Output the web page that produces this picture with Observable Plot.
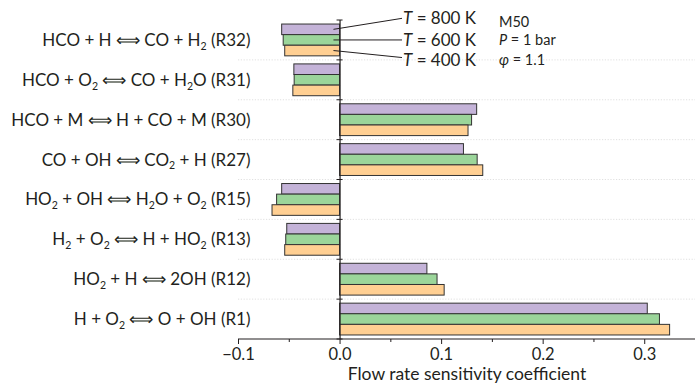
<!DOCTYPE html>
<html>
<head>
<meta charset="utf-8">
<script src="https://cdn.jsdelivr.net/npm/d3@7"></script>
<script src="https://cdn.jsdelivr.net/npm/@observablehq/plot@0.6"></script>
<style>
  body { margin: 0; background: #fff; }
  #chart svg { display: block; }
</style>
</head>
<body>
<div id="chart"></div>
<script>
// Reactions, top to bottom; "_2" marks a subscript digit
const reactions = ["R32", "R31", "R30", "R27", "R15", "R13", "R12", "R1"];
const reactionLabels = [
  "HCO + H ⟺ CO + H_2 (R32)",
  "HCO + O_2 ⟺ CO + H_2O (R31)",
  "HCO + M ⟺ H + CO + M (R30)",
  "CO + OH ⟺ CO_2 + H (R27)",
  "HO_2 + OH ⟺ H_2O + O_2 (R15)",
  "H_2 + O_2 ⟺ H + HO_2 (R13)",
  "HO_2 + H ⟺ 2OH (R12)",
  "H + O_2 ⟺ O + OH (R1)"
];

// Flow rate sensitivity coefficients per temperature (same order as reactions)
const temperatures = [800, 600, 400];
const sens800K = [-0.057, -0.045, 0.135, 0.122, -0.057, -0.052, 0.086, 0.303];
const sens600K = [-0.0555, -0.0447, 0.130, 0.1355, -0.062, -0.053, 0.096, 0.315];
const sens400K = [-0.054, -0.046, 0.1265, 0.141, -0.0665, -0.054, 0.103, 0.325];

const seriesColors = ["#c4b3d8", "#9bd59a", "#ffcf92"];
const temperatureLabels = ["*T* = 800 K", "*T* = 600 K", "*T* = 400 K"];
const conditionLabels = ["M50", "*P* = 1 bar", "*φ* = 1.1"];

const xTicks = [-0.1, 0, 0.1, 0.2, 0.3];
const xMinorTicks = [-0.05, 0.05, 0.15, 0.25];
const xLabel = "Flow rate sensitivity coefficient";

const ink = "#231f20";
const fontSize = 17;
const plotMarginTop = 20;

const rows = [];
reactions.forEach((r, i) => {
  [sens800K, sens600K, sens400K].forEach((s, j) => {
    rows.push({reaction: r, T: temperatures[j], value: s[i]});
  });
});
const labelOf = new Map(reactions.map((r, i) => [r, reactionLabels[i]]));

const chart = Plot.plot({
  width: 696,
  height: 385,
  marginLeft: 238,
  marginRight: 1,
  marginTop: plotMarginTop,
  marginBottom: 46,
  style: {fontFamily: "Lato, 'Open Sans', sans-serif", fontSize: fontSize + "px", color: ink, background: "#fff"},
  x: {domain: [-0.1, 0.35]},
  y: {domain: temperatures, paddingInner: 0, paddingOuter: 0.38, round: false, axis: null},
  fy: {domain: reactions, padding: 0, round: false, axis: null},
  color: {domain: temperatures, range: seriesColors},
  marks: [
    Plot.barX(rows, {fy: "reaction", y: "T", x: "value", fill: "T", stroke: "#333", strokeWidth: 1}),
    Plot.ruleX([0], {stroke: ink, strokeWidth: 1.2}),
    Plot.axisFy({anchor: "left", tickSize: 0, tickPadding: 0, dx: 12, fontSize, fill: ink,
      tickFormat: r => labelOf.get(r), label: null}),
    Plot.axisX({ticks: xTicks, tickFormat: d3.format(".1f"), tickSize: 5, tickPadding: 4,
      stroke: ink, fill: ink, fontSize: 16.5, label: null}),
    Plot.axisX({ticks: xMinorTicks, tickFormat: () => "", tickSize: 3, stroke: ink, label: null}),
    Plot.text([xLabel], {fy: () => reactions[reactions.length - 1], frameAnchor: "bottom",
      dy: 40.5, fontSize: 17.5, fill: ink})
  ]
});

document.getElementById("chart").appendChild(chart);

// Rich text: "_d" -> subscript digit, "*s*" -> italic
const SVGNS = "http://www.w3.org/2000/svg";
function setRich(el, str, size) {
  el.textContent = "";
  const re = /_(\d)|\*([^*]+)\*|([^_*]+)/g;
  let m, shifted = false;
  while ((m = re.exec(str))) {
    const t = document.createElementNS(SVGNS, "tspan");
    if (m[1]) {
      t.textContent = m[1];
      t.setAttribute("font-size", size * 0.62);
      t.setAttribute("dy", size * 0.22);
      shifted = true;
    } else {
      t.textContent = m[2] ?? m[3];
      if (m[2]) t.setAttribute("font-style", "italic");
      if (shifted) { t.setAttribute("dy", -size * 0.22); shifted = false; }
    }
    el.appendChild(t);
  }
}
chart.querySelectorAll("text").forEach(el => {
  const s = el.textContent;
  if (/[_*]/.test(s)) setRich(el, s, fontSize);
});

// Structural lines and annotations, positioned with the plot's scales
const xs = chart.scale("x"), ys = chart.scale("y"), fys = chart.scale("fy");
const svg = d3.select(chart);
const bandTops = reactions.map(r => fys.apply(r));
const bandBottom = bandTops[bandTops.length - 1] + fys.bandwidth;
const boundaries = [...bandTops, bandBottom];
const zeroX = xs.apply(0);

// dotted separators between reaction groups (behind the bars)
const back = svg.insert("g", "g");
back.selectAll("line").data(bandTops.slice(1)).join("line")
  .attr("x1", xs.range[0]).attr("x2", xs.range[1])
  .attr("y1", d => d).attr("y2", d => d)
  .attr("stroke", "#d8d8d8").attr("stroke-width", 0.8).attr("stroke-dasharray", "1.2,1.6");

const front = svg.append("g").attr("text-anchor", "start");
// x-axis baseline
front.append("line")
  .attr("x1", xs.range[0]).attr("x2", xs.range[1])
  .attr("y1", bandBottom).attr("y2", bandBottom)
  .attr("stroke", ink).attr("stroke-width", 1.2);
// group boundary ticks on the zero line
front.selectAll("line.b").data(boundaries).join("line").attr("class", "b")
  .attr("x1", zeroX - 3).attr("x2", zeroX + 3)
  .attr("y1", d => d).attr("y2", d => d)
  .attr("stroke", ink).attr("stroke-width", 1);

// series annotations pointing at the R32 bars
const facetTop = fys.apply(reactions[0]) - plotMarginTop;
const barCenter = T => facetTop + ys.apply(T) + ys.bandwidth / 2;
const labelShift = [-11.5, 0, 10];
const leaderEndShift = [-11, 0, 7];
const lineStartX = xs.apply(-0.006), labelX = xs.apply(0.0615);
temperatures.forEach((T, i) => {
  const yc = barCenter(T);
  front.append("line")
    .attr("x1", lineStartX).attr("y1", yc)
    .attr("x2", labelX).attr("y2", yc + leaderEndShift[i])
    .attr("stroke", ink).attr("stroke-width", 1);
  const t = front.append("text")
    .attr("x", labelX + 1).attr("y", yc + labelShift[i]).attr("dy", "0.35em")
    .attr("fill", ink).attr("font-size", 17).node();
  setRich(t, temperatureLabels[i], 17);
});

// operating conditions
const condX = xs.apply(0.157);
const condShift = [-7.5, 0, 9];
conditionLabels.forEach((s, i) => {
  const t = front.append("text")
    .attr("x", condX).attr("y", barCenter(temperatures[i]) + condShift[i])
    .attr("dy", "0.35em").attr("fill", ink).attr("font-size", 14.5).node();
  setRich(t, s, 14.5);
});
</script>
</body>
</html>
